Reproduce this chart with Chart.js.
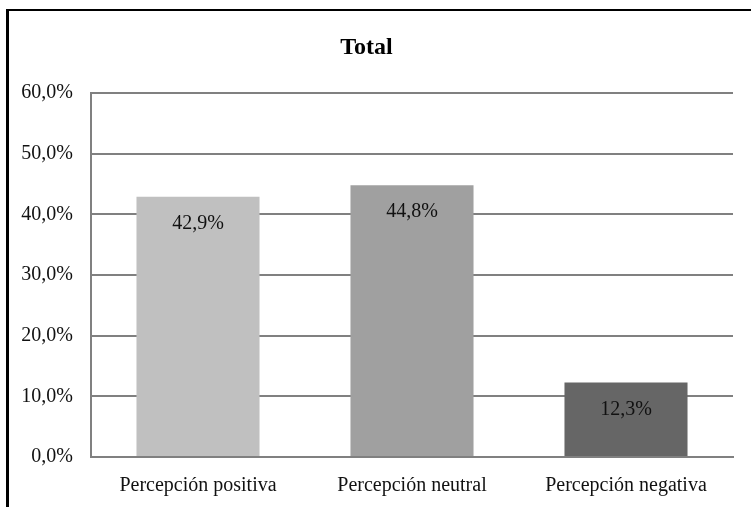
<!DOCTYPE html>
<html>
<head>
<meta charset="utf-8">
<script src="https://cdn.jsdelivr.net/npm/chart.js@4"></script>
<style>
  html, body { margin: 0; padding: 0; background: #fff; }
  #wrap { position: relative; width: 751px; height: 507px; overflow: hidden; }
  #frame {
    position: absolute; left: 6px; top: 9px; width: 800px; height: 600px;
    border-left: 3px solid #000; border-top: 2px solid #000;
    pointer-events: none; box-sizing: border-box;
  }
  canvas { display: block; }
</style>
</head>
<body>
<div id="wrap">
  <canvas id="c" width="751" height="507"></canvas>
  <div id="frame"></div>
</div>
<script>
// Perception shares (percent of total)
const categories = ['Percepción positiva', 'Percepción neutral', 'Percepción negativa'];
const shares = [42.9, 44.8, 12.3];
const chartTitle = 'Total';

const FONT = '"Liberation Serif", "Times New Roman", serif';
const fmt = v => v.toFixed(1).replace('.', ',') + '%';

// Writes each bar's value just inside its top edge
const valueLabels = {
  id: 'valueLabels',
  afterDatasetsDraw(chart) {
    const ctx = chart.ctx;
    const meta = chart.getDatasetMeta(0);
    ctx.save();
    ctx.font = '20px ' + FONT;
    ctx.fillStyle = '#111';
    ctx.textAlign = 'center';
    ctx.textBaseline = 'middle';
    meta.data.forEach((bar, i) => {
      ctx.fillText(fmt(chart.data.datasets[0].data[i]), bar.x, bar.y + 27);
    });
    ctx.restore();
  }
};

new Chart(document.getElementById('c'), {
  type: 'bar',
  data: {
    labels: categories,
    datasets: [{
      data: shares,
      backgroundColor: ['#c0c0c0', '#a0a0a0', '#666666'],
      borderWidth: 0,
      barPercentage: 1,
      categoryPercentage: 0.575
    }]
  },
  options: {
    responsive: false,
    animation: false,
    events: [],
    layout: { padding: { left: 0, right: 18, top: 0, bottom: 0 } },
    plugins: {
      legend: { display: false },
      tooltip: { enabled: false },
      title: {
        display: true,
        text: chartTitle,
        color: '#000',
        font: { family: FONT, size: 24, weight: 'bold' },
        padding: { top: 33.6, bottom: 30.6 }
      }
    },
    scales: {
      y: {
        min: 0,
        max: 60,
        ticks: {
          stepSize: 10,
          color: '#111',
          font: { family: FONT, size: 20 },
          padding: 18,
          callback: v => fmt(v)
        },
        grid: { color: '#808080', lineWidth: 2, drawTicks: false },
        border: { display: true, color: '#808080', width: 2 },
        afterFit: s => { s.width = 91; }
      },
      x: {
        ticks: {
          color: '#111',
          font: { family: FONT, size: 20 },
          padding: 17,
          maxRotation: 0
        },
        grid: { display: false, drawTicks: false },
        border: { display: true, color: '#808080', width: 2 },
        afterFit: s => { s.height = 50; }
      }
    }
  },
  plugins: [valueLabels]
});
</script>
</body>
</html>
